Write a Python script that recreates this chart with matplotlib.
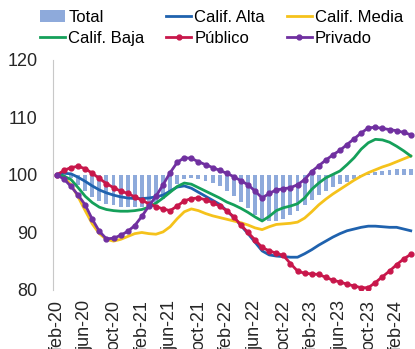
import matplotlib
matplotlib.use("Agg")
import numpy as np
import matplotlib.pyplot as plt

plt.rcParams['font.family'] = ['Liberation Sans', 'DejaVu Sans']

# Monthly indices (base feb-20 = 100), feb-20 .. apr-24
total = [100.0, 99.9, 99.4, 98.3, 97.2, 96.2, 95.5, 95.0, 94.7, 94.5,
         94.4, 94.4, 94.5, 94.8, 95.2, 95.9, 97.0, 98.4, 99.3, 99.5,
         99.3, 99.0, 98.6, 98.0, 97.3, 96.4, 95.3, 94.2, 93.1, 92.2,
         92.0, 92.0, 92.4, 93.0, 93.8, 94.8, 95.7, 96.5, 97.3, 97.9,
         98.4, 98.8, 99.3, 99.7, 100.2, 100.5, 100.7, 100.9, 101.0, 101.0,
         101.0]
calif_alta = [100.0, 100.3, 100.2, 99.6, 98.9, 98.1, 97.4, 96.9, 96.5, 96.2,
              96.0, 95.9, 95.9, 96.0, 96.2, 96.5, 97.2, 97.9, 98.1, 97.7,
              97.0, 96.3, 95.6, 94.9, 93.8, 92.6, 91.2, 89.8, 88.3, 86.8,
              86.1, 85.9, 85.8, 85.7, 85.7, 86.3, 87.0, 87.8, 88.5, 89.2,
              89.8, 90.3, 90.6, 90.9, 91.1, 91.1, 91.0, 90.9, 90.9, 90.6,
              90.3]
calif_media = [100.0, 99.6, 98.3, 96.2, 93.8, 91.5, 89.8, 88.8, 88.5, 88.8,
               89.3, 89.8, 90.0, 89.8, 89.7, 90.1, 91.0, 92.4, 93.6, 94.1,
               93.8, 93.3, 92.9, 92.6, 92.3, 92.0, 91.7, 91.3, 90.8, 90.5,
               91.0, 91.4, 91.5, 91.6, 91.8, 92.5, 93.6, 94.8, 95.8, 96.7,
               97.5, 98.3, 99.1, 99.8, 100.4, 100.9, 101.4, 101.8, 102.3, 102.8,
               103.3]
calif_baja = [100.0, 99.8, 99.2, 97.8, 96.3, 95.2, 94.4, 94.0, 93.8, 93.7,
              93.7, 93.8, 94.0, 94.4, 95.1, 96.0, 97.0, 98.0, 98.6, 98.4,
              97.8, 97.2, 96.6, 96.0, 95.3, 94.8, 94.2, 93.5, 92.7, 92.0,
              92.8, 93.8, 94.3, 94.6, 95.0, 96.0, 97.5, 98.6, 99.5, 100.1,
              100.7, 101.8, 103.0, 104.5, 105.6, 106.2, 106.1, 105.7, 105.0, 104.2,
              103.3]
publico = [100.0, 100.8, 101.3, 101.5, 101.1, 100.3, 99.4, 98.5, 97.8, 97.2,
           96.8, 96.2, 95.6, 95.0, 94.5, 94.1, 93.8, 94.6, 95.5, 95.9,
           96.0, 95.7, 95.2, 94.6, 93.8, 92.7, 91.3, 90.0, 88.7, 87.4,
           86.8, 86.4, 86.0, 84.6, 83.3, 82.9, 82.8, 82.7, 82.2, 81.7,
           81.4, 81.0, 80.7, 80.4, 80.4, 81.3, 82.3, 83.3, 84.4, 85.4,
           86.2]
privado = [100.0, 99.3, 98.0, 96.5, 94.8, 92.3, 90.2, 88.9, 89.0, 89.5,
           90.2, 91.2, 92.8, 94.6, 96.3, 98.3, 100.4, 102.2, 103.0, 102.9,
           102.3, 101.8, 101.3, 100.8, 100.3, 99.7, 99.0, 98.3, 97.2, 96.0,
           96.8, 97.4, 97.6, 97.8, 98.3, 99.2, 100.6, 101.6, 102.6, 103.5,
           104.3, 105.3, 106.3, 107.3, 108.2, 108.3, 108.1, 107.9, 107.7, 107.4,
           107.0]

tick_labels = ['feb-20', 'jun-20', 'oct-20', 'feb-21', 'jun-21', 'oct-21', 'feb-22',
               'jun-22', 'oct-22', 'feb-23', 'jun-23', 'oct-23', 'feb-24']

x = np.arange(len(total))

fig = plt.figure(figsize=(4.15, 3.49), dpi=100)
ax = fig.add_axes([0.1277, 0.1691, 0.8723, 0.6590])

# Total drawn as bars hanging from the 100 base
h_total = ax.bar(x, np.array(total) - 100, bottom=100, width=0.55,
                 color='#8eaadb', label='Total', zorder=1)
h_alta, = ax.plot(x, calif_alta, color='#1f62ae', lw=2, label='Calif. Alta', zorder=2)
h_media, = ax.plot(x, calif_media, color='#f5c21b', lw=2, label='Calif. Media', zorder=2)
h_baja, = ax.plot(x, calif_baja, color='#15a05a', lw=2, label='Calif. Baja', zorder=3)
h_pub, = ax.plot(x, publico, color='#c8174b', lw=2, marker='o', ms=3.5,
                 label='Público', zorder=4)
h_priv, = ax.plot(x, privado, color='#7030a0', lw=2, marker='o', ms=3.5,
                  label='Privado', zorder=5)

ax.set_xlim(-0.55, 50.6)
ax.set_ylim(80, 120)
ax.set_yticks([80, 90, 100, 110, 120])
ax.set_xticks(np.arange(0, len(tick_labels) * 4, 4))
ax.set_xticklabels(tick_labels, rotation=90)
ax.tick_params(axis='y', length=0, pad=11, labelsize=13, labelcolor='#262626')
ax.tick_params(axis='x', length=0, pad=7, labelsize=13, labelcolor='#262626')

for side in ['top', 'right', 'bottom']:
    ax.spines[side].set_visible(False)
ax.spines['left'].set_color('#c8c8c8')

# legend filled column by column, so reorder to read row by row
handles = [h_total, h_baja, h_alta, h_pub, h_media, h_priv]
labels = [h.get_label() for h in handles]
fig.legend(handles, labels, loc='upper left', bbox_to_anchor=(0.096, 0.972),
           ncol=3, frameon=False, fontsize=12, handlelength=1.5,
           handletextpad=0.2, columnspacing=1.3, labelspacing=0.38,
           borderpad=0, borderaxespad=0)

fig.savefig('out.png', dpi=100)
